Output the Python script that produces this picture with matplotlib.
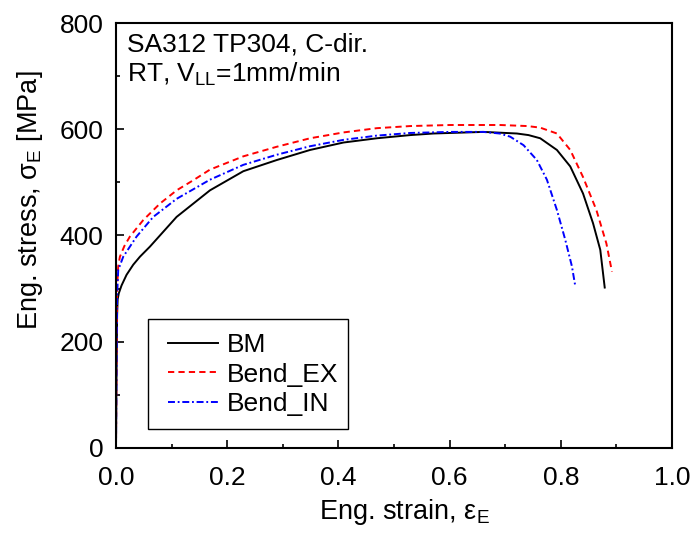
import numpy as np
import matplotlib
matplotlib.use("Agg")
import matplotlib.pyplot as plt
from matplotlib.patches import Rectangle

plt.rcParams["font.family"] = ["Liberation Sans", "DejaVu Sans"]
plt.rcParams["mathtext.fontset"] = "custom"
plt.rcParams["mathtext.rm"] = "Liberation Sans"
plt.rcParams["mathtext.it"] = "Liberation Sans:italic"
plt.rcParams["lines.scale_dashes"] = False

# values
bm_strain = [0.0, 0.001, 0.002, 0.003, 0.005, 0.010, 0.019, 0.031, 0.043, 0.061, 0.085, 0.109,
             0.169, 0.229, 0.289, 0.349, 0.409, 0.469, 0.529, 0.571, 0.661, 0.721, 0.742,
             0.763, 0.793, 0.817, 0.840, 0.858, 0.871, 0.879]
bm_stress = [0, 150, 250, 280, 291, 306, 326, 345, 360, 379, 407, 435,
             485, 521, 542, 561, 575, 583, 589, 592, 595, 592, 589,
             583, 561, 530, 479, 423, 373, 302]

ex_strain = [0.0, 0.001, 0.002, 0.004, 0.007, 0.015, 0.025, 0.049, 0.079, 0.109, 0.139, 0.169,
             0.229, 0.289, 0.349, 0.409, 0.469, 0.529, 0.601, 0.691, 0.740, 0.763, 0.793,
             0.817, 0.840, 0.864, 0.882, 0.892]
ex_stress = [0, 180, 300, 342, 360, 380, 398, 429, 460, 485, 504, 524,
             549, 567, 583, 594, 602, 606, 608, 608, 606, 603, 592,
             561, 510, 448, 385, 332]

in_strain = [0.0, 0.001, 0.002, 0.004, 0.013, 0.037, 0.067, 0.109, 0.169, 0.229, 0.289, 0.349,
             0.409, 0.469, 0.529, 0.601, 0.660, 0.690, 0.709, 0.733, 0.757, 0.775, 0.793,
             0.808, 0.820, 0.826]
in_stress = [0, 170, 290, 335, 360, 398, 435, 469, 505, 533, 552, 568,
             580, 588, 593, 595, 595, 592, 586, 570, 542, 505, 448,
             392, 342, 305]

fig = plt.figure(figsize=(6.95, 5.4), dpi=100)
ax = fig.add_axes([0.1669, 0.1704, 0.80, 0.787])

ax.plot(bm_strain, bm_stress, color="black", lw=1.4, ls="-", label="BM")
ax.plot(ex_strain, ex_stress, color="red", lw=1.4, ls=(0, (4.5, 3)), label="Bend_EX")
ax.plot(in_strain, in_stress, color="blue", lw=1.4, ls=(0, (5, 2, 1.3, 2)), label="Bend_IN")

ax.set_xlim(0, 1.0)
ax.set_ylim(0, 800)
ax.set_xticks(np.arange(0, 1.01, 0.2))
ax.set_xticks(np.arange(0.1, 1.0, 0.2), minor=True)
ax.set_yticks(np.arange(0, 801, 200))
ax.set_yticks(np.arange(100, 800, 200), minor=True)
ax.xaxis.set_major_formatter(matplotlib.ticker.FormatStrFormatter("%.1f"))
ax.tick_params(which="both", direction="in", top=False, right=False, labelsize=19, width=1.2)
ax.tick_params(which="major", length=6)
ax.tick_params(axis="x", pad=13)
ax.tick_params(axis="y", pad=9)
ax.tick_params(which="minor", length=3)
for s in ax.spines.values():
    s.set_linewidth(1.5)

ax.set_xlabel("Eng. strain, ε$_\\mathregular{E}$", fontsize=19.5)
ax.set_ylabel("Eng. stress, σ$_\\mathregular{E}$ [MPa]", fontsize=19.5)
ax.xaxis.set_label_coords(0.518, -0.115)
ax.yaxis.set_label_coords(-0.128, 0.584)

ax.text(0.02, 0.932, "SA312 TP304, C-dir.", transform=ax.transAxes, fontsize=19, va="baseline")
ax.text(0.02, 0.861, "RT, V$_\\mathregular{LL}$=1mm/min", transform=ax.transAxes, fontsize=19, va="baseline")

ax.add_patch(Rectangle((0.0576, 0.0445), 0.36, 0.26, transform=ax.transAxes,
                       fill=False, edgecolor="black", lw=1.0, zorder=3))
ax.legend(loc="upper left", bbox_to_anchor=(0.0935, 0.27), fontsize=19, frameon=False,
          handlelength=1.9, handletextpad=0.35, borderaxespad=0, borderpad=0,
          labelspacing=0.2)

fig.savefig("out.png", dpi=100)
